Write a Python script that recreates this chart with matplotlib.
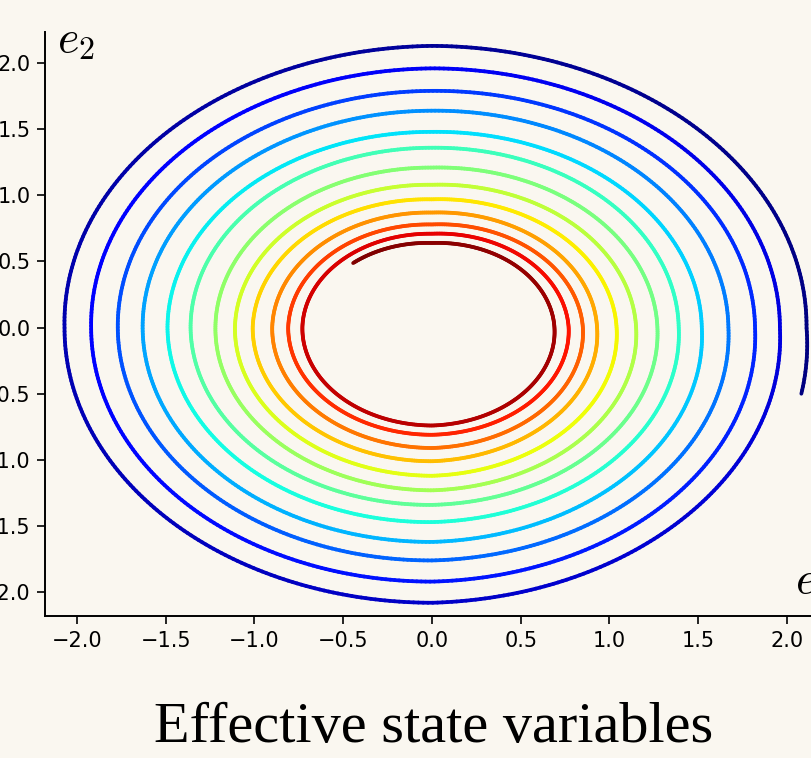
import numpy as np
import matplotlib.pyplot as plt
from matplotlib.collections import LineCollection

plt.rcParams['mathtext.fontset'] = 'cm'

# radius of the trajectory where it crosses each half axis, outer turn first
# (one value per turn)
right_r = [2.11, 1.96, 1.82, 1.67, 1.52, 1.39, 1.27, 1.15, 1.04, 0.93, 0.85, 0.77, 0.69]
top_r = [2.13, 1.96, 1.79, 1.64, 1.48, 1.36, 1.21, 1.08, 0.97, 0.87, 0.78, 0.71, 0.64]
left_r = [2.07, 1.92, 1.77, 1.63, 1.49, 1.36, 1.22, 1.11, 1.01, 0.90, 0.81, 0.73]
bottom_r = [2.08, 1.92, 1.76, 1.62, 1.47, 1.34, 1.23, 1.12, 1.01, 0.91, 0.81, 0.74]

# start and end of the trajectory: (quarter turns, radius)
start_pt = (-0.15, 2.14)
end_pt = (49.47, 0.66)

xticks = [-2.0, -1.5, -1.0, -0.5, 0.0, 0.5, 1.0, 1.5, 2.0]
yticks = [-2.0, -1.5, -1.0, -0.5, 0.0, 0.5, 1.0, 1.5, 2.0]

bg = '#faf7f0'

# anchor list along the path
quarters = [start_pt[0]]
radii = [start_pt[1]]
for k in range(len(right_r)):
    for j, arr in enumerate([right_r, top_r, left_r, bottom_r]):
        if k < len(arr):
            quarters.append(4 * k + j)
            radii.append(arr[k])
quarters.append(end_pt[0])
radii.append(end_pt[1])

q = np.linspace(quarters[0], quarters[-1], 6000)
r = np.interp(q, quarters, radii)
phi = q * np.pi / 2
x = r * np.cos(phi)
y = r * np.sin(phi)

pts = np.column_stack([x, y]).reshape(-1, 1, 2)
segs = np.concatenate([pts[:-1], pts[1:]], axis=1)
t = np.linspace(0, 1, len(segs))

fig = plt.figure(figsize=(8.12, 7.58), dpi=100, facecolor=bg)
ax = fig.add_axes([45 / 812, 142 / 758, 777.5 / 812, 584 / 758])
ax.set_facecolor(bg)

lc = LineCollection(segs, cmap='jet', linewidths=2.7, capstyle='round')
lc.set_array(t)
ax.add_collection(lc)

ax.set_xlim(-2.18, 2.20)
ax.set_ylim(-2.18, 2.235)
ax.set_xticks(xticks)
ax.set_yticks(yticks)
ax.spines['top'].set_visible(False)
ax.spines['right'].set_visible(False)
for s in ['left', 'bottom']:
    ax.spines[s].set_linewidth(1.4)
ax.tick_params(labelsize=15, length=5.5, width=1.2, pad=5)

ax.text(2.045, -2.01, r'$e_1$', fontsize=33, va='baseline', ha='left', clip_on=False)
ax.text(-2.11, 2.08, r'$e_2$', fontsize=33, va='baseline', ha='left', clip_on=False)

fig.text(433.5 / 812, 16 / 758, 'Effective state variables', fontfamily='Liberation Serif',
         fontsize=42, ha='center', va='baseline')

plt.savefig('out.png', dpi=100, facecolor=bg)
